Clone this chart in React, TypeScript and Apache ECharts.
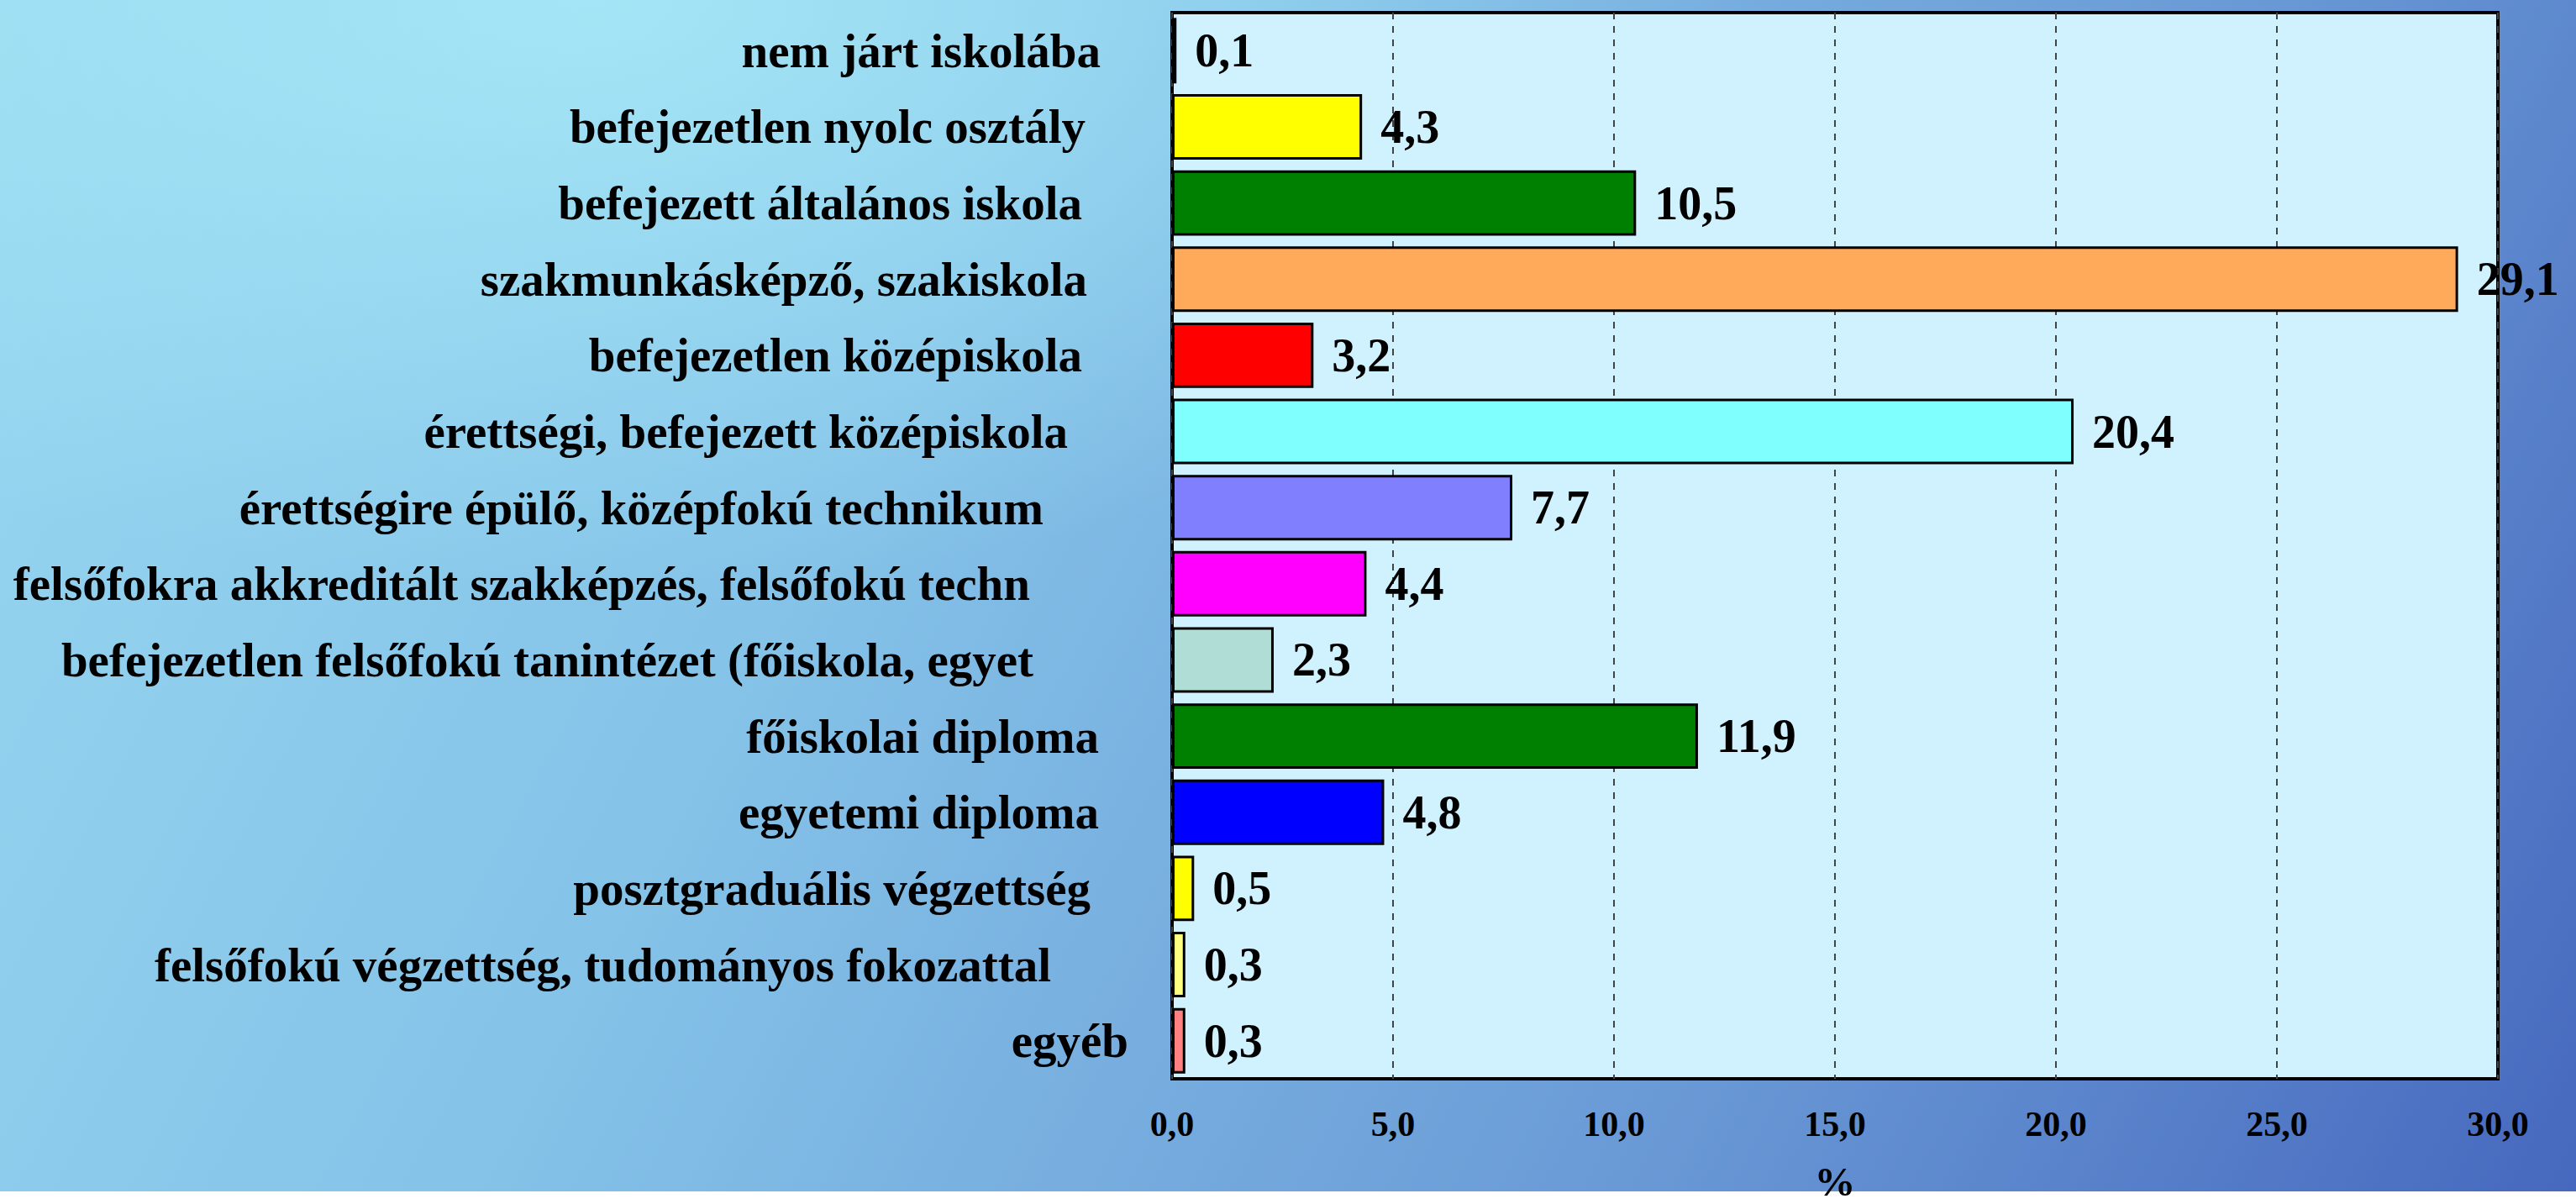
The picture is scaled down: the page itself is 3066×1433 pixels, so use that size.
import React, { useEffect, useRef } from "react";
import * as echarts from "echarts";

const categories: string[] = [
  "nem járt iskolába",
  "befejezetlen nyolc osztály",
  "befejezett általános iskola",
  "szakmunkásképző, szakiskola",
  "befejezetlen középiskola",
  "érettségi, befejezett középiskola",
  "érettségire épülő, középfokú technikum",
  "felsőfokra akkreditált szakképzés, felsőfokú techn",
  "befejezetlen felsőfokú tanintézet (főiskola, egyet",
  "főiskolai diploma",
  "egyetemi diploma",
  "posztgraduális végzettség",
  "felsőfokú végzettség, tudományos fokozattal",
  "egyéb",
];

const values: number[] = [0.1, 4.3, 10.5, 29.1, 3.2, 20.4, 7.7, 4.4, 2.3, 11.9, 4.8, 0.5, 0.3, 0.3];

const barColors: string[] = [
  "#000080",
  "#ffff00",
  "#008000",
  "#ffa95b",
  "#ff0000",
  "#80ffff",
  "#8080ff",
  "#ff00ff",
  "#b0ddd6",
  "#008000",
  "#0000ff",
  "#ffff00",
  "#ffff80",
  "#ff8080",
];

// extra right padding of each category label (the source labels carry trailing spaces)
const labelPad: number[] = [33, 51, 55, 49, 55, 72, 101, 117, 113, 35, 35, 45, 92, 0];

const xMin = 0;
const xMax = 30;
const xStep = 5;
const xAxisName = "%";

const FONT = "'Liberation Serif', 'Times New Roman', serif";

const fmt = (v: number) => v.toFixed(1).replace(".", ",");

export default function App() {
  const ref = useRef<HTMLDivElement>(null);

  useEffect(() => {
    if (!ref.current) return;
    const chart = echarts.init(ref.current, null, { renderer: "svg" });
    const rich: Record<string, any> = {};
    labelPad.forEach((p, i) => {
      rich["p" + i] = {
        fontFamily: FONT,
        fontWeight: "bold",
        fontSize: 57,
        color: "#000",
        padding: [0, p, 0, 0],
      };
    });
    chart.setOption({
      animation: false,
      backgroundColor: "transparent",
      grid: {
        left: 1395,
        right: 93,
        top: 15,
        bottom: 149,
        show: true,
        backgroundColor: "#d0f2fe",
        borderColor: "#000",
        borderWidth: 4,
        containLabel: false,
        outerBoundsMode: "none",
      },
      xAxis: {
        type: "value",
        min: xMin,
        max: xMax,
        interval: xStep,
        name: xAxisName,
        nameLocation: "middle",
        nameGap: 98,
        nameTextStyle: {
          fontFamily: FONT,
          fontWeight: "bold",
          fontSize: 49,
          color: "#000",
        },
        axisLine: { show: false },
        axisTick: { show: false },
        axisLabel: {
          margin: 33,
          fontFamily: FONT,
          fontWeight: "bold",
          fontSize: 42,
          color: "#000",
          formatter: (v: number) => fmt(v),
        },
        splitLine: {
          show: true,
          lineStyle: { color: "#444", width: 2, type: [8, 8] },
        },
      },
      yAxis: {
        type: "category",
        inverse: true,
        data: categories,
        axisLine: { show: false },
        axisTick: { show: false },
        splitLine: { show: false },
        axisLabel: {
          margin: 52,
          fontFamily: FONT,
          fontWeight: "bold",
          fontSize: 57,
          color: "#000",
          formatter: (v: string, i: number) => `{p${i}|${v}}`,
          rich,
        },
      },
      series: [
        {
          type: "bar",
          barCategoryGap: "14%",
          data: values.map((v, i) => ({
            value: v,
            itemStyle: { color: barColors[i] },
          })),
          itemStyle: { borderColor: "#000", borderWidth: 3 },
          label: {
            show: true,
            position: "right",
            distance: 22,
            fontFamily: FONT,
            fontWeight: "bold",
            fontSize: 56,
            color: "#000",
            formatter: (p: any) => fmt(p.value),
          },
        },
      ],
    });
    return () => chart.dispose();
  }, []);

  return (
    <div
      style={{
        position: "absolute",
        left: 0,
        top: 0,
        width: 3066,
        height: 1433,
        backgroundColor: "#ffffff",
        backgroundImage:
          "radial-gradient(ellipse 1400px 700px at 700px 0px, rgba(168,234,248,0.85) 0%, rgba(168,234,248,0) 100%), linear-gradient(118deg, #98d8f0 0%, #84c2e8 35%, #6a9ad6 70%, #4668be 100%)",
        backgroundSize: "3066px 1418px",
        backgroundRepeat: "no-repeat",
      }}
    >
      <div ref={ref} style={{ width: 3066, height: 1433 }} />
    </div>
  );
}
